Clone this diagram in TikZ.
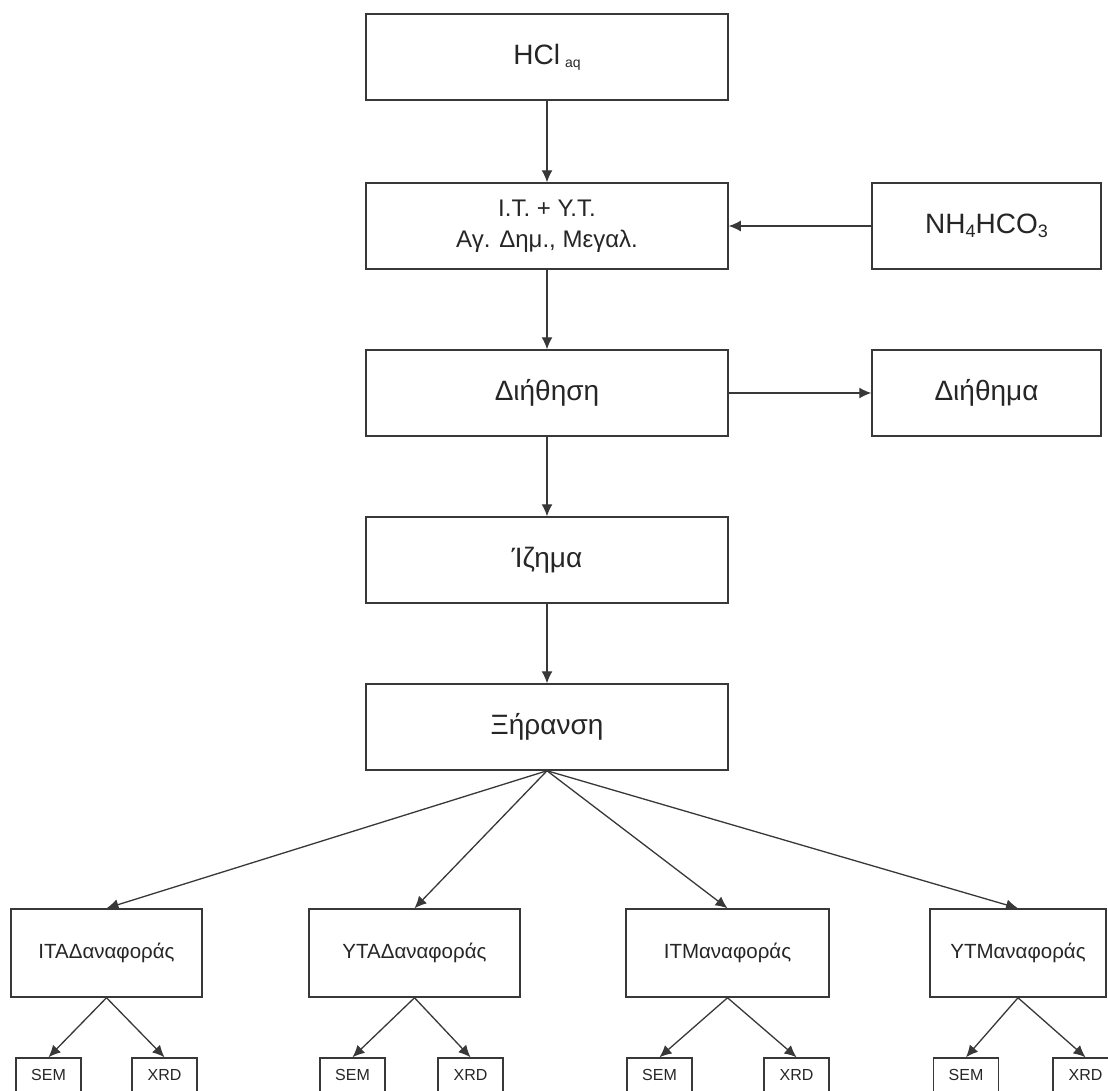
\documentclass[tikz,border=0pt]{standalone}
\usepackage{fontspec}
\setmainfont{Liberation Sans}
\usetikzlibrary{arrows.meta}
\definecolor{linec}{HTML}{383838}
\tikzset{
  box/.style={draw=linec, line width=1.5pt, fill=white, inner sep=0pt, minimum height=86pt, text=black!85},
  bigbox/.style={box, minimum width=362pt, font=\fontsize{28}{30}\selectfont},
  sidebox/.style={box, minimum width=229pt, font=\fontsize{28}{30}\selectfont},
  refbox/.style={box, minimum height=88pt, font=\fontsize{20.5}{22}\selectfont},
  probe/.style={box, minimum width=65pt, minimum height=34pt, font=\fontsize{16}{18}\selectfont},
  arr/.style={draw=linec, line width=1.3pt, -{Latex[length=12pt,width=11pt]}}
}
\begin{document}
\begin{tikzpicture}[x=1pt,y=-1pt]
\useasboundingbox (0,0) rectangle (1108,1090);
\fill[white] (0,0) rectangle (1108,1090);
\clip (0,0) rectangle (1108,1090);

\node[bigbox] (hcl) at (547,57) {HCl\hspace{5pt}\raisebox{-3pt}{\fontsize{14}{14}\selectfont aq}};
\node[bigbox, align=center, font=\fontsize{24}{31}\selectfont] (mix) at (547,226) {I.T. + Y.T.\\Αγ. Δημ., Μεγαλ.};
\node[sidebox] (nh) at (986.5,226) {NH\raisebox{-4pt}{\fontsize{18}{18}\selectfont 4}HCO\raisebox{-4pt}{\fontsize{18}{18}\selectfont 3}};
\node[bigbox] (dith) at (547,393) {Διήθηση};
\node[sidebox] (dithma) at (986.5,393) {Διήθημα};
\node[bigbox] (izima) at (547,560) {Ίζημα};
\node[bigbox] (xir) at (547,727) {Ξήρανση};

\node[refbox, minimum width=191pt] (ita) at (106.5,953) {ITAΔαναφοράς};
\node[refbox, minimum width=211pt] (yta) at (414.5,953) {YTAΔαναφοράς};
\node[refbox, minimum width=203pt] (itm) at (727.5,953) {ITMαναφοράς};
\node[refbox, minimum width=176pt] (ytm) at (1018,953) {YTMαναφοράς};

\node[probe] (itasem) at (48.5,1075) {SEM};
\node[probe] (itaxrd) at (164.5,1075) {XRD};
\node[probe] (ytasem) at (352.5,1075) {SEM};
\node[probe] (ytaxrd) at (470.5,1075) {XRD};
\node[probe] (itmsem) at (659.5,1075) {SEM};
\node[probe] (itmxrd) at (796.5,1075) {XRD};
\node[probe] (ytmsem) at (966,1075) {SEM};
\node[probe] (ytmxrd) at (1085.5,1075) {XRD};

\draw[arr] (hcl.south) -- (mix.north);
\draw[arr] (nh.west) -- (mix.east);
\draw[arr] (mix.south) -- (dith.north);
\draw[arr] (dith.east) -- (dithma.west);
\draw[arr] (dith.south) -- (izima.north);
\draw[arr] (izima.south) -- (xir.north);

\draw[arr] (xir.south) -- (ita.north);
\draw[arr] (xir.south) -- (yta.north);
\draw[arr] (xir.south) -- (itm.north);
\draw[arr] (xir.south) -- (ytm.north);

\draw[arr] (ita.south) -- (itasem.north);
\draw[arr] (ita.south) -- (itaxrd.north);
\draw[arr] (yta.south) -- (ytasem.north);
\draw[arr] (yta.south) -- (ytaxrd.north);
\draw[arr] (itm.south) -- (itmsem.north);
\draw[arr] (itm.south) -- (itmxrd.north);
\draw[arr] (ytm.south) -- (ytmsem.north);
\draw[arr] (ytm.south) -- (ytmxrd.north);
\end{tikzpicture}
\end{document}
